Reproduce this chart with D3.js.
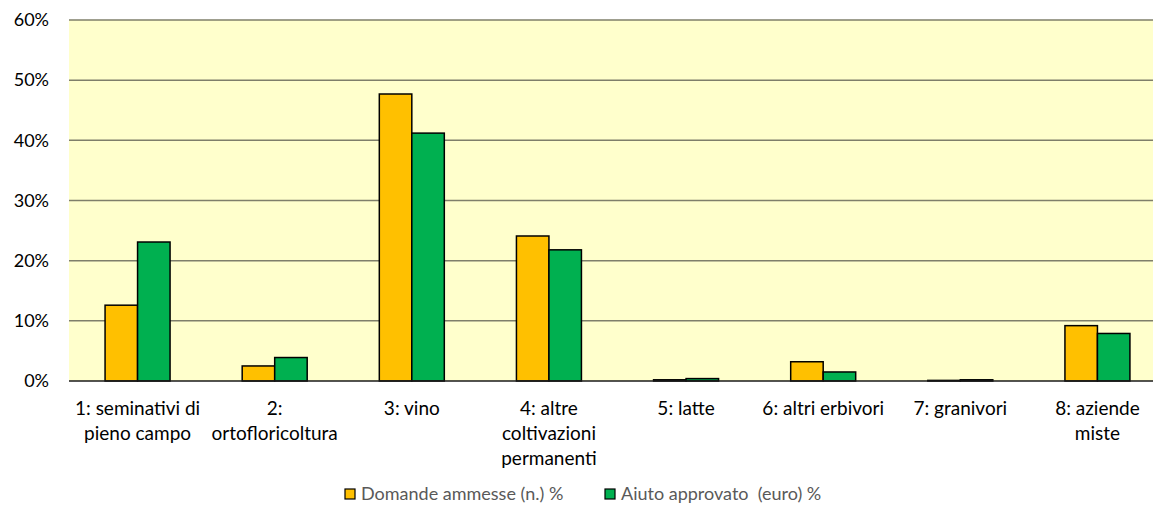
<!DOCTYPE html>
<html>
<head>
<meta charset="utf-8">
<script src="https://cdn.jsdelivr.net/npm/d3@7"></script>
<style>
  body { margin: 0; background: #fff; }
  svg { display: block; }
  text { font-family: Lato, "Liberation Sans", sans-serif; }
</style>
</head>
<body>
<div id="chart"></div>
<script>
var categories = [
  ["1: seminativi di", "pieno campo"],
  ["2:", "ortofloricoltura"],
  ["3: vino"],
  ["4: altre", "coltivazioni", "permanenti"],
  ["5: latte"],
  ["6: altri erbivori"],
  ["7: granivori"],
  ["8: aziende", "miste"]
];
var domande = [12.6, 2.5, 47.7, 24.1, 0.2, 3.2, 0.1, 9.2];
var aiuto = [23.1, 3.9, 41.2, 21.8, 0.4, 1.5, 0.2, 7.9];
var seriesNames = ["Domande ammesse (n.) %", "Aiuto approvato  (euro) %"];
var seriesColors = ["#FFC000", "#00B050"];
var yTicks = [0, 10, 20, 30, 40, 50, 60];

var width = 1153, height = 505;
var margin = {left: 69, right: -13, top: 20, bottom: 124};
var plotW = width - margin.left - margin.right;
var plotH = height - margin.top - margin.bottom;

var svg = d3.select("#chart").append("svg")
    .attr("width", width)
    .attr("height", height);

var g = svg.append("g")
    .attr("transform", "translate(" + margin.left + "," + margin.top + ")");

var x0 = d3.scaleBand()
    .domain(d3.range(categories.length))
    .range([0, plotW])
    .paddingInner(0.526)
    .paddingOuter(0.263);

var x1 = d3.scaleBand()
    .domain([0, 1])
    .range([0, x0.bandwidth()]);

var y = d3.scaleLinear()
    .domain([0, 60])
    .range([plotH, 0]);

// background
g.append("rect")
    .attr("width", plotW)
    .attr("height", plotH)
    .attr("fill", "#FFFFCC");

// gridlines
g.append("g")
  .selectAll("line")
  .data(yTicks.filter(function(d){ return d > 0; }))
  .enter().append("line")
    .attr("x1", 0)
    .attr("x2", plotW)
    .attr("y1", function(d){ return y(d); })
    .attr("y2", function(d){ return y(d); })
    .attr("stroke", "#7f7f6a")
    .attr("stroke-width", 1.5);

// y axis labels
var yAxis = d3.axisLeft(y).tickValues(yTicks).tickSize(0).tickPadding(20)
    .tickFormat(function(d){ return d + "%"; });
var ya = g.append("g").call(yAxis);
ya.select(".domain").remove();
ya.selectAll("text")
    .attr("font-family", "Lato, sans-serif")
    .attr("font-size", 18)
    .attr("fill", "#000");

// bars
var data = categories.map(function(c, i){ return [domande[i], aiuto[i]]; });

var groups = g.selectAll("g.grp")
    .data(data)
    .enter().append("g")
    .attr("class", "grp")
    .attr("transform", function(d, i){ return "translate(" + x0(i) + ",0)"; });

groups.selectAll("rect")
    .data(function(d){ return d; })
    .enter().append("rect")
    .attr("x", function(d, j){ return x1(j); })
    .attr("y", function(d){ return y(d); })
    .attr("width", x1.bandwidth())
    .attr("height", function(d){ return y(0) - y(d); })
    .attr("fill", function(d, j){ return seriesColors[j]; })
    .attr("stroke", "#000")
    .attr("stroke-width", 1.5);

// zero line
g.append("line")
    .attr("x1", 0).attr("x2", plotW)
    .attr("y1", y(0)).attr("y2", y(0))
    .attr("stroke", "#1a1a1a")
    .attr("stroke-width", 1.5);

// category labels
var labels = g.selectAll("text.cat")
    .data(categories)
    .enter().append("text")
    .attr("class", "cat")
    .attr("text-anchor", "middle")
    .attr("font-size", 19)
    .attr("fill", "#000")
    .attr("transform", function(d, i){ return "translate(" + (x0(i) + x0.bandwidth() / 2) + "," + (plotH + 34) + ")"; });

labels.selectAll("tspan")
    .data(function(d){ return d; })
    .enter().append("tspan")
    .attr("x", 0)
    .attr("y", function(d, k){ return k * 25; })
    .text(function(d){ return d; });

// legend
var legendX = [345, 605];
var legend = svg.selectAll("g.leg")
    .data(seriesNames)
    .enter().append("g")
    .attr("class", "leg")
    .attr("transform", function(d, i){ return "translate(" + legendX[i] + ",489)"; });

legend.append("rect")
    .attr("width", 10)
    .attr("height", 10)
    .attr("fill", function(d, i){ return seriesColors[i]; })
    .attr("stroke", "#000")
    .attr("stroke-width", 1.2);

legend.append("text")
    .attr("x", 16)
    .attr("y", 11)
    .attr("font-size", 18)
    .attr("fill", "#595959")
    .style("white-space", "pre")
    .text(function(d){ return d; });
</script>
</body>
</html>
